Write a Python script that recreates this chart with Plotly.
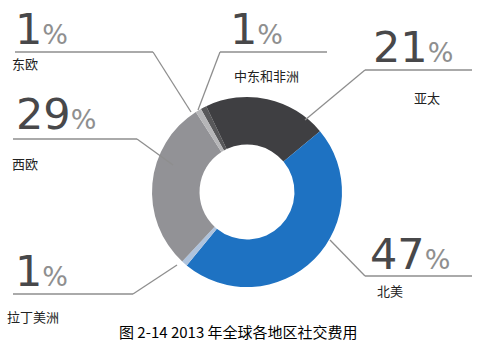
import plotly.graph_objects as go

# ---- data ----
regions = ["中东和非洲", "亚太", "北美", "拉丁美洲", "西欧", "东欧"]
shares = [1, 21, 47, 1, 29, 1]
slice_colors = ["#58585a", "#3f3f42", "#1e72c2", "#aec3dd", "#929296", "#b6b6b8"]
caption = "图 2-14 2013 年全球各地区社交费用"

W, H = 477, 353

fig = go.Figure()
fig.add_trace(go.Pie(
    labels=regions, values=shares, sort=False, direction="clockwise",
    rotation=-29, hole=0.5, textinfo="none", hoverinfo="label+percent",
    marker=dict(colors=slice_colors, line=dict(width=0)),
    domain=dict(x=[(247 - 95) / W, (247 + 95) / W],
                y=[(H - 192 - 95) / H, (H - 192 + 95) / H]),
    showlegend=False,
))

# label layout (pixel positions): number x, baseline y, label x, label y, leader path
layout_pos = {
    "东欧":   dict(nx=13, ny=45, lx=10, ly=63, la="left",
                 path=[(15, 52), (153, 52), (191, 112)]),
    "中东和非洲": dict(nx=228, ny=45, lx=232, ly=75, la="left",
                  path=[(327, 52), (220, 52), (198, 110)]),
    "亚太":   dict(nx=371, ny=63, lx=427, ly=97, la="center",
                 path=[(472, 70), (365, 70), (305, 120)]),
    "西欧":   dict(nx=14, ny=130, lx=10, ly=163, la="left",
                 path=[(13, 139), (137, 139), (173, 165)]),
    "拉丁美洲": dict(nx=13, ny=287, lx=5, ly=316, la="left",
                  path=[(13, 294), (133, 294), (177, 265)]),
    "北美":   dict(nx=368, ny=270, lx=375, ly=290, la="left",
                 path=[(472, 276), (365, 276), (330, 240)]),
}

for name, val in zip(regions, shares):
    p = layout_pos[name]
    pts = p["path"]
    for (x0, y0), (x1, y1) in zip(pts[:-1], pts[1:]):
        fig.add_shape(type="line", xref="x", yref="y", x0=x0, y0=y0, x1=x1, y1=y1,
                      line=dict(color="#8e8e8e", width=1.3))
    fig.add_annotation(
        x=p["nx"], y=p["ny"], xref="x", yref="y", xanchor="left", yanchor="bottom",
        yshift=-11, showarrow=False,
        text=f"{val}<span style='font-size:27px;fill:#8f8f8f'>%</span>",
        font=dict(family="DejaVu Sans", size=43, color="#48484a"),
    )
    fig.add_annotation(
        x=p["lx"], y=p["ly"], xref="x", yref="y", xanchor=p["la"], yanchor="middle",
        showarrow=False, text=name,
        font=dict(family="Noto Sans CJK SC", size=13, color="#222222"),
    )

fig.add_annotation(x=238, y=331, xref="x", yref="y", xanchor="center", yanchor="middle",
                   showarrow=False, text=caption,
                   font=dict(family="Noto Sans CJK SC", size=15, color="#000000"))

fig.update_layout(
    width=W, height=H, margin=dict(l=0, r=0, t=0, b=0),
    paper_bgcolor="white", plot_bgcolor="white",
    xaxis=dict(range=[0, W], visible=False, fixedrange=True),
    yaxis=dict(range=[H, 0], visible=False, fixedrange=True),
)

fig.write_html("out.html")
